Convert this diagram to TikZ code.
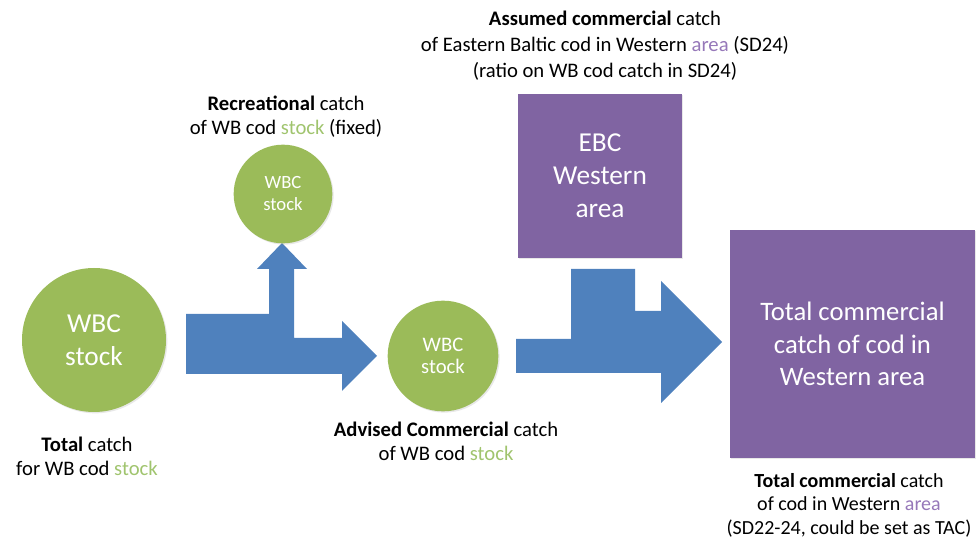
\documentclass[tikz,border=0pt]{standalone}
\usepackage{fontspec}
\setmainfont{Carlito}
\usepackage{xcolor}
\usepackage{tikz}
\usetikzlibrary{shadows}

\definecolor{wbcgreen}{RGB}{155,187,89}
\definecolor{stockgreen}{RGB}{160,196,110}
\definecolor{ebcpurple}{RGB}{128,100,162}
\definecolor{areapurple}{RGB}{150,120,185}
\definecolor{flowblue}{RGB}{79,129,189}

\begin{document}
\begin{tikzpicture}[x=0.75pt,y=0.75pt,yscale=-1,xscale=1,
  flowarrow/.style={fill=flowblue, draw=none},
  stockcircle/.style={circle, fill=wbcgreen, draw=none, text=white, align=center, inner sep=0pt,
    drop shadow={opacity=0.18, shadow xshift=1pt, shadow yshift=-1pt}},
  areabox/.style={rectangle, fill=ebcpurple, draw=none, text=white, align=center, inner sep=0pt,
    drop shadow={opacity=0.18, shadow xshift=1pt, shadow yshift=-1pt}},
  caption/.style={align=center, inner sep=0pt, font=\fontsize{15.5}{18}\selectfont}]
%set diagram area: 976 x 541
\useasboundingbox (0,0) rectangle (976,541);

%Bent arrow (total catch split into recreational and commercial)
\fill [flowarrow] (186,374) -- (186,314) -- (269,314) -- (269,269) -- (257,269) -- (282,243) -- (307,269) -- (294,269) -- (294,338) -- (342,338) -- (342,321) -- (377,356) -- (342,391) -- (342,374) -- cycle ;
%Merging arrow (commercial + EBC to total)
\fill [flowarrow] (516,373) -- (516,339) -- (571,339) -- (571,269) -- (635,269) -- (635,311) -- (661,311) -- (661,281) -- (722,342) -- (661,403) -- (661,373) -- cycle ;

% Circles
\node [stockcircle, minimum size=108pt, font=\fontsize{20.5}{24.75}\selectfont] (wbctotal) at (94,340) {WBC\\stock};
\node [stockcircle, minimum size=74pt, font=\fontsize{14}{16.5}\selectfont] (wbcrec) at (283,194) {WBC\\stock};
\node [stockcircle, minimum size=83pt, font=\fontsize{15.5}{16.5}\selectfont] (wbccom) at (443,356) {WBC\\stock};

% Boxes
\node [areabox, minimum width=123pt, minimum height=123pt, font=\fontsize{20.5}{24.75}\selectfont] (ebc) at (600,176) {EBC\\Western\\area};
\node [areabox, minimum width=183.75pt, minimum height=171pt, font=\fontsize{20}{24.4}\selectfont] (total) at (852.5,344) {Total commercial\\catch of cod in\\Western area};

% Text Node
\node [caption] (rectext) at (286,117) {\textbf{Recreational} catch\\of WB cod \textcolor{stockgreen}{stock} (fixed)};
% Text Node
\node [caption] (totaltext) at (87,456) {\textbf{Total} catch\\for WB cod \textcolor{stockgreen}{stock}};
% Text Node
\node [caption] (comtext) at (446,441) {\textbf{Advised Commercial} catch\\of WB cod \textcolor{stockgreen}{stock}};
% Text Node
\node [caption, font=\fontsize{15.5}{19.5}\selectfont] (ebctext) at (605,46) {\textbf{Assumed commercial} catch\\of Eastern Baltic cod in Western \textcolor{areapurple}{area} (SD24)\\(ratio on WB cod catch in SD24)};
% Text Node
\node [caption, font=\fontsize{15}{17.6}\selectfont] (tactext) at (849,505) {\textbf{Total commercial} catch\\of cod in Western \textcolor{areapurple}{area}\\(SD22-24, could be set as TAC)};

\end{tikzpicture}
\end{document}
